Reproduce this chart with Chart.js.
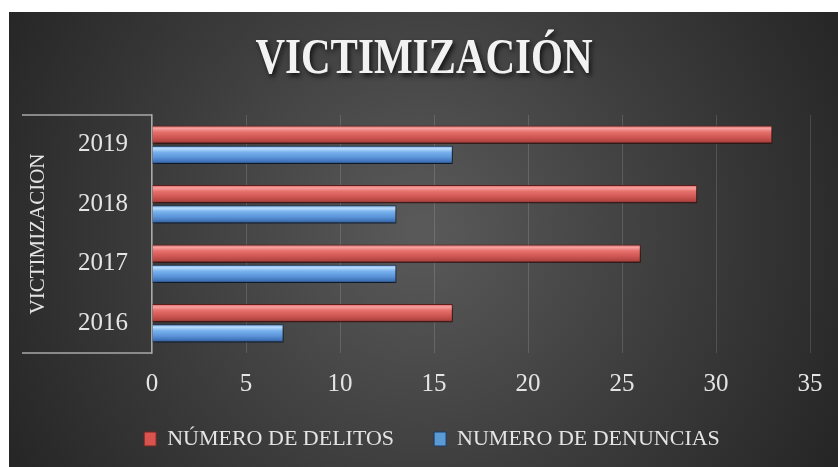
<!DOCTYPE html>
<html>
<head>
<meta charset="utf-8">
<script src="https://cdn.jsdelivr.net/npm/chart.js@4"></script>
<style>
  html, body { margin: 0; padding: 0; background: #fff; }
  canvas { display: block; }
</style>
</head>
<body>
<canvas id="victimizacion" width="838" height="467"></canvas>
<script>
const years = ['2016', '2017', '2018', '2019'];
const delitos = [16, 26, 29, 33];
const denuncias = [7, 13, 13, 16];
const xTicks = [0, 5, 10, 15, 20, 25, 30, 35];

const chartTitle = 'VICTIMIZACIÓN';
const axisTitle = 'VICTIMIZACION';
const labelDelitos = 'NÚMERO DE DELITOS';
const labelDenuncias = 'NUMERO DE DENUNCIAS';

const serif = '"Liberation Serif", "DejaVu Serif", serif';
const textColor = '#e4e4e4';

// colour stops top -> bottom for the bevelled bars
const redStops = ['#d8605c', '#f7a19e', '#e6706c', '#cf5652', '#b04441', '#6a2523'];
const blueStops = ['#6aa3e4', '#b9dcfc', '#79b2ee', '#5a93d8', '#3f70b4', '#1d3a64'];
const stopAt = [0, 0.16, 0.35, 0.65, 0.88, 1];

function barGradient(ctx, top, bottom, stops) {
    const g = ctx.createLinearGradient(0, top, 0, bottom);
    stops.forEach((c, i) => g.addColorStop(stopAt[i], c));
    return g;
}

// dark radial backdrop
const backdrop = {
    id: 'backdrop',
    beforeDraw(chart) {
        const ctx = chart.ctx;
        ctx.save();
        ctx.fillStyle = '#ffffff';
        ctx.fillRect(0, 0, chart.width, chart.height);
        const g = ctx.createRadialGradient(420, 230, 10, 420, 230, 470);
        g.addColorStop(0, '#595959');
        g.addColorStop(0.55, '#3c3c3c');
        g.addColorStop(1, '#262626');
        ctx.fillStyle = g;
        ctx.fillRect(9, 12, chart.width - 9, chart.height - 12);
        ctx.restore();
    }
};

// condensed bold title with a drop shadow
const bigTitle = {
    id: 'bigTitle',
    afterDraw(chart) {
        const ctx = chart.ctx;
        ctx.save();
        ctx.translate(424, 60);
        ctx.scale(0.82, 1);
        ctx.font = 'bold 50px ' + serif;
        ctx.textAlign = 'center';
        ctx.textBaseline = 'middle';
        ctx.shadowColor = 'rgba(0,0,0,0.75)';
        ctx.shadowBlur = 5;
        ctx.shadowOffsetX = 2;
        ctx.shadowOffsetY = 3;
        ctx.fillStyle = '#f2f2f2';
        ctx.fillText(chartTitle, 0, 0);
        ctx.restore();
    }
};

// the open box round the category labels
const labelFrame = {
    id: 'labelFrame',
    afterDraw(chart) {
        const a = chart.chartArea;
        const ctx = chart.ctx;
        ctx.save();
        ctx.strokeStyle = '#a8a8a8';
        ctx.lineWidth = 1.5;
        ctx.beginPath();
        ctx.moveTo(22, a.top);
        ctx.lineTo(a.left, a.top);
        ctx.moveTo(22, a.bottom);
        ctx.lineTo(a.left, a.bottom);
        ctx.stroke();
        ctx.restore();
    }
};

// lift the legend a little closer to the axis labels
const legendLift = {
    id: 'legendLift',
    afterLayout(chart) {
        if (chart.legend) {
            chart.legend.top -= 15;
            chart.legend.bottom -= 15;
        }
    }
};

// bevel gradient + shadow on every bar
const bevel = {
    id: 'bevel',
    beforeDatasetsDraw(chart) {
        const ctx = chart.ctx;
        chart.data.datasets.forEach((ds, di) => {
            const meta = chart.getDatasetMeta(di);
            meta.data.forEach(el => {
                const top = el.y - el.height / 2;
                const bottom = el.y + el.height / 2;
                el.options = Object.assign({}, el.options, {
                    backgroundColor: barGradient(ctx, top, bottom, di === 0 ? redStops : blueStops)
                });
            });
        });
        ctx.save();
        ctx.shadowColor = 'rgba(0,0,0,0.6)';
        ctx.shadowBlur = 4;
        ctx.shadowOffsetX = 1;
        ctx.shadowOffsetY = 3;
    },
    afterDatasetsDraw(chart) {
        chart.ctx.restore();
    }
};

const ctx = document.getElementById('victimizacion').getContext('2d');
const victimChart = new Chart(ctx, {
    type: 'bar',
    data: {
        labels: years,
        datasets: [{
            label: labelDelitos,
            data: delitos,
            backgroundColor: '#d9534f',
            borderColor: '#5e1f1d',
            borderWidth: 1,
            borderSkipped: 'start',
        }, {
            label: labelDenuncias,
            data: denuncias,
            backgroundColor: '#5b9bd5',
            borderColor: '#1b3559',
            borderWidth: 1,
            borderSkipped: 'start',
        }]
    },
    options: {
        responsive: false,
        animation: false,
        indexAxis: 'y',
        datasets: {
            bar: {
                categoryPercentage: 0.68,
                barPercentage: 0.9,
            }
        },
        layout: {
            padding: { top: 115, right: 0, bottom: -8, left: 26 }
        },
        scales: {
            x: {
                min: 0,
                max: 35,
                afterBuildTicks: (scale) => {
                    scale.ticks = xTicks.map(v => ({ value: v }));
                },
                afterFit: (scale) => {
                    scale.height = 50;
                    scale.paddingRight = 28;
                },
                grid: {
                    color: 'rgba(255,255,255,0.14)',
                    lineWidth: 1,
                    drawTicks: false,
                },
                border: { display: false },
                ticks: {
                    color: textColor,
                    font: { family: serif, size: 25 },
                    padding: 16,
                },
            },
            y: {
                reverse: true,
                afterFit: (scale) => { scale.width = 126; },
                grid: { display: false },
                border: { display: true, color: '#a8a8a8', width: 1.5 },
                ticks: {
                    color: textColor,
                    font: { family: serif, size: 25 },
                    padding: 16,
                },
                title: {
                    display: true,
                    text: axisTitle,
                    color: textColor,
                    font: { family: serif, size: 21 },
                    padding: { top: 0, bottom: 0 },
                },
            },
        },
        plugins: {
            title: { display: false },
            tooltip: { enabled: false },
            legend: {
                display: true,
                position: 'bottom',
                labels: {
                    color: textColor,
                    font: { family: serif, size: 22 },
                    boxWidth: 12,
                    boxHeight: 14,
                    padding: 40,
                    generateLabels: (chart) => chart.data.datasets.map((ds, i) => ({
                        text: ds.label,
                        fillStyle: i === 0 ? '#d9534f' : '#5b9bd5',
                        strokeStyle: i === 0 ? '#6e2725' : '#1d3a64',
                        lineWidth: 1,
                        fontColor: textColor,
                        datasetIndex: i,
                    })),
                },
            },
        },
    },
    plugins: [backdrop, bevel, labelFrame, legendLift, bigTitle],
});
</script>
</body>
</html>
